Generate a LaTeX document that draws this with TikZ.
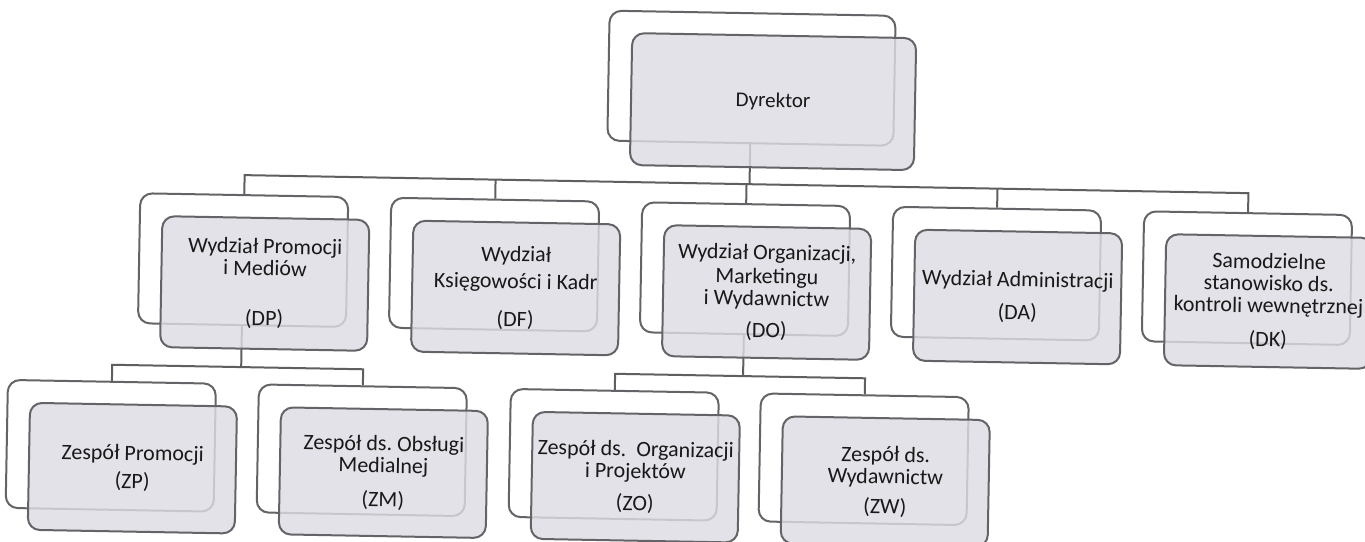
\documentclass[tikz,border=0pt]{standalone}
\usepackage{fontspec}
\setmainfont{Carlito}
\frenchspacing
\definecolor{boxline}{RGB}{100,100,104}
\definecolor{boxfill}{RGB}{220,220,227}
\definecolor{txt}{RGB}{25,25,25}
\definecolor{connline}{RGB}{95,95,98}
\begin{document}
\begin{tikzpicture}[x=0.5pt,y=-0.5pt,
  backbox/.style={draw=boxline, line width=1pt, fill=white, rounded corners=6pt,
    minimum width=104pt, minimum height=65pt, inner sep=0pt},
  frontbox/.style={draw=boxline, line width=1pt, fill=boxfill, fill opacity=0.82,
    text opacity=1, rounded corners=6pt, minimum width=103.5pt, minimum height=65.5pt,
    inner sep=0pt, align=center, text=txt, font=\fontsize{11pt}{11pt}\selectfont},
  topback/.style={backbox, minimum width=143pt},
  topfront/.style={frontbox, minimum width=142pt, minimum height=66pt,
    font=\fontsize{10.5pt}{11pt}\selectfont},
  lowback/.style={backbox, minimum height=64pt},
  lowfront/.style={frontbox, minimum height=63.5pt},
  conn/.style={draw=connline, line width=1pt}]
\useasboundingbox (0,0) rectangle (1365,541);
\clip (0,0) rectangle (1365,541);
\fill[white] (0,0) rectangle (1365,541);
\begin{scope}[rotate around={-1.03:(682,270)}, transform shape]
  % back boxes
  \node[topback] (DYRb) at (748,77) {};
  \node[backbox] (DPb) at (243,268) {};
  \node[backbox] (DFb) at (494,268) {};
  \node[backbox] (DOb) at (745,268) {};
  \node[backbox] (DAb) at (996,268) {};
  \node[backbox] (DKb) at (1247,268) {};
  \node[lowback] (ZPb) at (114,456) {};
  \node[lowback] (ZMb) at (365,456) {};
  \node[lowback] (ZOb) at (617,456) {};
  \node[lowback] (ZWb) at (867,456) {};
  % bus coordinates
  \coordinate (bus0) at (748,183);
  \coordinate (busDP) at (243,183);
  \coordinate (busDF) at (494,183);
  \coordinate (busDO) at (745,183);
  \coordinate (busDA) at (996,183);
  \coordinate (busDK) at (1247,183);
  \coordinate (bus1) at (243,375);
  \coordinate (busZP) at (114,375);
  \coordinate (busZM) at (365,375);
  \coordinate (bus2) at (745,375);
  \coordinate (busZO) at (617,375);
  \coordinate (busZW) at (867,375);
  % connectors
  \draw[conn] (DYRb.south) -- (bus0);
  \draw[conn] (DPb.north) -- (busDP) -- (busDK) -- (DKb.north);
  \draw[conn] (DFb.north) -- (busDF);
  \draw[conn] (DOb.north) -- (busDO);
  \draw[conn] (DAb.north) -- (busDA);
  \draw[conn] (DPb.south) -- (bus1);
  \draw[conn] (ZPb.north) -- (busZP) -- (busZM) -- (ZMb.north);
  \draw[conn] (DOb.south) -- (bus2);
  \draw[conn] (ZOb.north) -- (busZO) -- (busZW) -- (ZWb.north);
  % front boxes
  \node[topfront] (DYR) at (770,100) {Dyrektor};
  \node[frontbox] (DP) at (265,291) {Wydział Promocji\\ i Mediów\\[14pt] (DP)};
  \node[frontbox] (DF) at (516,291) {Wydział\\[2.5pt] Księgowości i Kadr\\[8pt] (DF)};
  \node[frontbox] (DO) at (767,291) {Wydział Organizacji,\\[1pt] Marketingu\\ i Wydawnictw\\[5pt] (DO)};
  \node[frontbox] (DA) at (1018,291) {Wydział Administracji\\[5.5pt] (DA)};
  \node[frontbox] (DK) at (1269,291) {Samodzielne\\ stanowisko ds.\\ kontroli wewnętrznej\\[6pt] (DK)};
  \node[lowfront] (ZP) at (136,478) {Zespół Promocji\\[3pt] (ZP)};
  \node[lowfront] (ZM) at (387,478) {Zespół ds. Obsługi\\ Medialnej\\[6pt] (ZM)};
  \node[lowfront] (ZO) at (639,478) {Zespół ds.\ \ Organizacji\\ i Projektów\\[5pt] (ZO)};
  \node[lowfront] (ZW) at (889,478) {Zespół ds.\\ Wydawnictw\\[4pt] (ZW)};
\end{scope}
\end{tikzpicture}
\end{document}
